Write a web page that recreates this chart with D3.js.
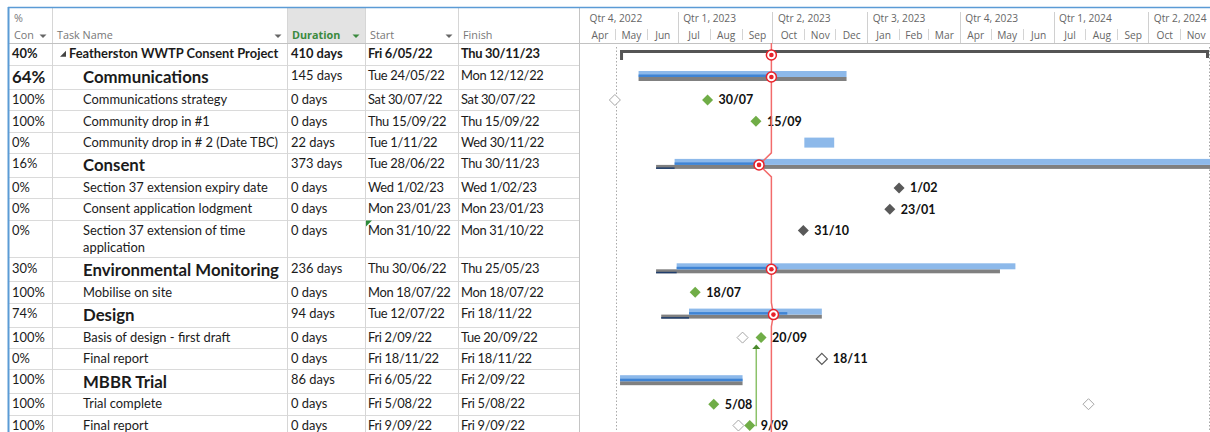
<!DOCTYPE html>
<html>
<head>
<meta charset="utf-8">
<script src="https://cdn.jsdelivr.net/npm/d3@7"></script>
<style>
  body { margin: 0; background: #fff; }
  svg { display: block; }
</style>
</head>
<body>
<div id="gantt"></div>
<script>
// ---- table values ----
const pctComplete = ["40%", "64%", "100%", "100%", "0%", "16%", "0%", "0%", "0%", "30%", "100%", "74%", "100%", "0%", "100%", "100%", "100%"];
const taskNames = [
  "Featherston WWTP Consent Project", "Communications", "Communications strategy", "Community drop in #1",
  "Community drop in # 2 (Date TBC)", "Consent", "Section 37 extension expiry date", "Consent application lodgment",
  "Section 37 extension of time application", "Environmental Monitoring", "Mobilise on site", "Design",
  "Basis of design - first draft", "Final report", "MBBR Trial", "Trial complete", "Final report"
];
const rowKind = ["project", "summary", "milestone", "milestone", "task", "summary", "milestone", "milestone",
  "milestone", "summary", "milestone", "summary", "milestone", "milestone", "summary", "milestone", "milestone"];
const durations = ["410 days", "145 days", "0 days", "0 days", "22 days", "373 days", "0 days", "0 days", "0 days",
  "236 days", "0 days", "94 days", "0 days", "0 days", "86 days", "0 days", "0 days"];
const startText = ["Fri 6/05/22", "Tue 24/05/22", "Sat 30/07/22", "Thu 15/09/22", "Tue 1/11/22", "Tue 28/06/22",
  "Wed 1/02/23", "Mon 23/01/23", "Mon 31/10/22", "Thu 30/06/22", "Mon 18/07/22", "Tue 12/07/22", "Fri 2/09/22",
  "Fri 18/11/22", "Fri 6/05/22", "Fri 5/08/22", "Fri 9/09/22"];
const finishText = ["Thu 30/11/23", "Mon 12/12/22", "Sat 30/07/22", "Thu 15/09/22", "Wed 30/11/22", "Thu 30/11/23",
  "Wed 1/02/23", "Mon 23/01/23", "Mon 31/10/22", "Thu 25/05/23", "Mon 18/07/22", "Fri 18/11/22", "Tue 20/09/22",
  "Fri 18/11/22", "Fri 2/09/22", "Fri 5/08/22", "Fri 9/09/22"];

// baselines (estimated from the grey bars / hollow diamonds)
const baselineStart = [null, "2022-05-24", "2022-05-01", null, null, "2022-06-10", null, null, null, "2022-06-10",
  null, "2022-06-15", "2022-09-02", "2022-11-18", "2022-05-06", "2023-08-04", "2022-08-29"];
const baselineFinish = [null, "2022-12-12", null, null, null, "2023-11-30", null, null, null, "2023-05-10",
  null, "2022-11-18", null, null, "2022-09-02", null, null];

// progress line
const statusDate = "2022-09-30";
const progressPoint = ["2022-09-30", "2022-09-30", null, null, null, "2022-09-18", null, null, null, "2022-09-30",
  null, "2022-10-02", null, null, null, null, null];

// predecessor -> successor links (row indexes)
const links = [[16, 12]];

// timescale
const quarterLabels = ["Qtr 4, 2022", "Qtr 1, 2023", "Qtr 2, 2023", "Qtr 3, 2023", "Qtr 4, 2023", "Qtr 1, 2024", "Qtr 2, 2024"];
const monthLabels = ["Apr", "May", "Jun", "Jul", "Aug", "Sep", "Oct", "Nov", "Dec", "Jan", "Feb", "Mar",
  "Apr", "May", "Jun", "Jul", "Aug", "Sep", "Oct", "Nov"];
const timeStart = "2022-04-01";
const timeEnd = "2023-11-30";
const projectLines = ["2022-05-02", "2023-11-30"];

// ---- setup ----
const W = 1210, H = 432;
const headTop = 7, headBottom = 43;
const tableLeft = 9, tableRight = 579, chartLeft = 584;
const colLines = [52, 287, 365, 458];
const font = "Lato, 'Open Sans', sans-serif";
const blue = "#5b9bd5";
const fs = 12.9, fsBig = 16.8;

const parseDate = d3.utcParse("%a %d/%m/%y");
const parseIso = d3.utcParse("%Y-%m-%d");
const labelFmt = d3.utcFormat("%-d/%m");

const xScale = d3.scaleUtc()
  .domain([parseIso(timeStart), parseIso(timeEnd)])
  .range([chartLeft, W]);

const svg = d3.select("#gantt").append("svg")
  .attr("width", W)
  .attr("height", H)
  .style("font-family", font);

// wrap long task names to the column width
const measure = svg.append("text").attr("font-size", fs).attr("visibility", "hidden");
const wrapName = (name, maxW) => {
  const words = name.split(" ");
  const lines = [];
  let cur = "";
  words.forEach((w) => {
    const test = cur ? cur + " " + w : w;
    measure.text(test);
    if (measure.node().getComputedTextLength() > maxW && cur) {
      lines.push(cur);
      cur = w;
    } else {
      cur = test;
    }
  });
  lines.push(cur);
  return lines;
};

let y = headBottom;
const rows = taskNames.map((name, i) => {
  const kind = rowKind[i];
  const lines = (kind === "summary" || kind === "project") ? [name] : wrapName(name, 200);
  let h = kind === "project" ? 22 : kind === "summary" ? 24 : 21.3 + (lines.length - 1) * 16.5;
  const r = {
    i, name, kind, lines, top: y, h,
    pct: pctComplete[i], dur: durations[i], startT: startText[i], finishT: finishText[i],
    start: parseDate(startText[i]), finish: parseDate(finishText[i]),
    bStart: baselineStart[i] ? parseIso(baselineStart[i]) : null,
    bFinish: baselineFinish[i] ? parseIso(baselineFinish[i]) : null,
    pp: progressPoint[i] ? parseIso(progressPoint[i]) : null
  };
  y += h;
  return r;
});
measure.remove();

// ---- table ----
const table = svg.append("g");

// header
table.append("rect")
  .attr("x", colLines[1] + 1).attr("y", headTop + 1)
  .attr("width", colLines[2] - colLines[1] - 1).attr("height", headBottom - headTop - 1)
  .attr("fill", "#e3e3e3");

const headTxt = (x, yy, t, opts = {}) => table.append("text")
  .attr("x", x).attr("y", yy).attr("dy", "0.35em")
  .attr("font-family", "'Open Sans', sans-serif")
  .attr("font-size", 10.8)
  .attr("font-weight", opts.bold ? 700 : 400)
  .attr("fill", opts.color || "#777")
  .text(t);

headTxt(14, 18, "%");
headTxt(14, 35, "Con");
headTxt(57, 35, "Task Name");
headTxt(292, 35, "Duration", {bold: true, color: "#3b8a3e"});
headTxt(370, 35, "Start");
headTxt(463, 35, "Finish");

const dropArrow = (x, yy, c) => table.append("path")
  .attr("d", `M${x - 3.5},${yy - 1.5}L${x + 3.5},${yy - 1.5}L${x},${yy + 2}Z`)
  .attr("fill", c || "#666");
dropArrow(43, 36);
dropArrow(278, 36);
dropArrow(356, 36, "#3b8a3e");
dropArrow(449, 36);

// grid lines
table.selectAll(".rowline")
  .data(rows)
  .join("line")
  .attr("x1", tableLeft).attr("x2", tableRight)
  .attr("y1", (d) => Math.round(d.top + d.h) + 0.5).attr("y2", (d) => Math.round(d.top + d.h) + 0.5)
  .attr("stroke", "#dadada");

table.selectAll(".colline")
  .data(colLines)
  .join("line")
  .attr("x1", (d) => d + 0.5).attr("x2", (d) => d + 0.5)
  .attr("y1", headTop).attr("y2", H)
  .attr("stroke", "#d6d6d6");

table.append("line")
  .attr("x1", tableRight + 0.5).attr("x2", tableRight + 0.5)
  .attr("y1", headTop).attr("y2", H)
  .attr("stroke", "#c4c4c4");

// header bottom
svg.append("line")
  .attr("x1", tableLeft).attr("x2", W)
  .attr("y1", headBottom + 0.5).attr("y2", headBottom + 0.5)
  .attr("stroke", "#c2c2c2");

// cell texts
const cellTxt = (x, yy, t, size, bold, tight) => table.append("text")
  .attr("x", x).attr("y", yy).attr("dy", "0.35em")
  .attr("font-size", size)
  .attr("font-weight", bold ? 700 : 400)
  .attr("letter-spacing", tight ? -0.3 : 0)
  .attr("fill", "#1b1b1b")
  .text(t);

rows.forEach((r) => {
  const small = r.top + 10.7;
  const big = r.top + r.h / 2 + 0.5;
  const isProj = r.kind === "project";
  const isSum = r.kind === "summary";
  // only the Communications row shows its % in the large summary font
  if (r.i === 1) cellTxt(12, big, r.pct, fsBig, true);
  else cellTxt(12, small, r.pct, fs, isProj);

  if (isProj) {
    table.append("path")
      .attr("d", `M${60},${small + 3}L${66},${small + 3}L${66},${small - 3}Z`)
      .attr("fill", "#444");
    cellTxt(69, small, r.name, fs, true);
  } else if (isSum) {
    cellTxt(83, big, r.name, fsBig, true);
  } else {
    r.lines.forEach((ln, k) => cellTxt(83, small + k * 17.5, ln, fs, false));
  }
  cellTxt(291, small, r.dur, fs, isProj);
  cellTxt(368, small, r.startT, fs, isProj, true);
  cellTxt(461, small, r.finishT, fs, isProj, true);
});

// edited-cell marker
const marked = rows[8];
table.append("path")
  .attr("d", `M${colLines[2] + 1},${marked.top + 1}L${colLines[2] + 7},${marked.top + 1}L${colLines[2] + 1},${marked.top + 7}Z`)
  .attr("fill", "#2e8b3a");

// outer blue frame
svg.append("line")
  .attr("x1", tableLeft - 1).attr("x2", W)
  .attr("y1", headTop + 0.5).attr("y2", headTop + 0.5)
  .attr("stroke", blue).attr("stroke-width", 1.5);
svg.append("line")
  .attr("x1", tableLeft - 0.5).attr("x2", tableLeft - 0.5)
  .attr("y1", headTop).attr("y2", H)
  .attr("stroke", blue).attr("stroke-width", 2);

// ---- timescale ----
const months = d3.utcMonth.range(parseIso(timeStart), d3.utcMonth.offset(parseIso(timeEnd), 1));
const quarters = months.filter((d, i) => i % 3 === 0);

const monthAxis = d3.axisTop(xScale)
  .tickValues(months.map((m) => new Date((+m + +d3.utcMonth.offset(m, 1)) / 2)))
  .tickFormat((d, i) => monthLabels[i])
  .tickSize(0)
  .tickPadding(0);

const quarterAxis = d3.axisTop(xScale)
  .tickValues(quarters)
  .tickFormat((d, i) => quarterLabels[i])
  .tickSize(0)
  .tickPadding(0);

const styleAxis = (g) => {
  g.select(".domain").remove();
  g.selectAll("text")
    .attr("font-family", "'Open Sans', sans-serif")
    .attr("font-size", 10.2)
    .attr("fill", "#666");
};

svg.append("g")
  .attr("transform", "translate(0,39)")
  .call(monthAxis)
  .call(styleAxis);

svg.append("g")
  .attr("transform", "translate(0,22)")
  .call(quarterAxis)
  .call(styleAxis)
  .call((g) => g.selectAll("text").attr("text-anchor", "start").attr("dx", 5));

svg.selectAll(".mtick")
  .data(months.filter((d, i) => i % 3 !== 0))
  .join("line")
  .attr("x1", (d) => Math.round(xScale(d)) + 0.5).attr("x2", (d) => Math.round(xScale(d)) + 0.5)
  .attr("y1", 29).attr("y2", 40)
  .attr("stroke", "#d4d4d4");

svg.selectAll(".qtick")
  .data(quarters.slice(1))
  .join("line")
  .attr("x1", (d) => Math.round(xScale(d)) + 0.5).attr("x2", (d) => Math.round(xScale(d)) + 0.5)
  .attr("y1", 12).attr("y2", headBottom)
  .attr("stroke", "#d0d0d0");

// ---- gantt ----
const chart = svg.append("g");

// project start / finish dotted lines
chart.selectAll(".pline")
  .data(projectLines.map(parseIso))
  .join("line")
  .attr("x1", (d) => Math.min(Math.round(xScale(d)), W - 1) + 0.5)
  .attr("x2", (d) => Math.min(Math.round(xScale(d)), W - 1) + 0.5)
  .attr("y1", headBottom + 4).attr("y2", H)
  .attr("stroke", "#a9a9a9")
  .attr("stroke-dasharray", "1.5,2");

const lightBlue = "#8db9ea", darkBlue = "#3f84d4", grey = "#808080";

rows.forEach((r) => {
  const c = r.top + 12;
  if (r.kind === "project") {
    const x0 = xScale(r.start), x1 = Math.min(xScale(r.finish), W - 1);
    chart.append("rect").attr("x", x0).attr("y", r.top + 7).attr("width", x1 - x0).attr("height", 3).attr("fill", "#555");
    chart.append("rect").attr("x", x0).attr("y", r.top + 7).attr("width", 3).attr("height", 10).attr("fill", "#555");
    chart.append("rect").attr("x", x1 - 3).attr("y", r.top + 7).attr("width", 3).attr("height", 8).attr("fill", "#555");
  } else if (r.kind === "summary") {
    const bx0 = xScale(r.bStart), bx1 = Math.min(xScale(r.bFinish), W);
    const x0 = xScale(r.start), x1 = Math.min(xScale(r.finish), W);
    const pct = parseFloat(r.pct) / 100;
    const px = xScale(new Date(+r.start + pct * (r.finish - r.start)));
    chart.append("rect").attr("x", bx0).attr("y", c).attr("width", bx1 - bx0).attr("height", 4).attr("fill", grey);
    if (r.bStart < r.start) {
      chart.append("rect").attr("x", bx0).attr("y", c + 2.5).attr("width", x0 - bx0).attr("height", 1.5).attr("fill", "#1f3d6b");
    }
    chart.append("rect").attr("x", x0).attr("y", c - 6).attr("width", x1 - x0).attr("height", 6).attr("fill", lightBlue);
    chart.append("rect").attr("x", x0).attr("y", c - 2.5).attr("width", Math.min(px, x1) - x0).attr("height", 2.5).attr("fill", darkBlue);
  } else if (r.kind === "task") {
    const x0 = xScale(r.start), x1 = xScale(r.finish);
    chart.append("rect").attr("x", x0).attr("y", r.top + 6).attr("width", x1 - x0).attr("height", 10).attr("fill", lightBlue);
  }
});

// links
const diamond = (s) => `M0,${-s}L${s},0L0,${s}L${-s},0Z`;
links.forEach(([from, to]) => {
  const a = rows[from], b = rows[to];
  const x0 = xScale(a.finish) + 5.5;
  const ya = a.top + 11, yb = b.top + 11;
  chart.append("path")
    .attr("d", `M${x0},${ya}H${x0 + 1}V${yb + 11}`)
    .attr("fill", "none")
    .attr("stroke", "#8cc26a")
    .attr("stroke-width", 1.5);
  chart.append("path")
    .attr("d", `M${x0 + 1 - 4},${yb + 11.5}L${x0 + 1 + 4},${yb + 11.5}L${x0 + 1},${yb + 7}Z`)
    .attr("fill", "#4a8a2c");
});

// milestones
rows.filter((r) => r.kind === "milestone").forEach((r) => {
  const c = r.top + 11;
  if (r.bStart && +r.bStart !== +r.finish) {
    chart.append("path")
      .attr("transform", `translate(${xScale(r.bStart)},${c})`)
      .attr("d", diamond(5.5))
      .attr("fill", "#fff").attr("stroke", "#a6a6a6");
  }
  const done = r.pct === "100%";
  const hollow = r.bStart && +r.bStart === +r.finish;
  chart.append("path")
    .attr("transform", `translate(${xScale(r.finish)},${c})`)
    .attr("d", diamond(hollow ? 5.5 : 5.5))
    .attr("fill", hollow ? "#fff" : done ? "#70ad47" : "#595959")
    .attr("stroke", hollow ? "#595959" : "none")
    .attr("stroke-width", 1.2);
  chart.append("text")
    .attr("x", xScale(r.finish) + 11).attr("y", c).attr("dy", "0.35em")
    .attr("font-size", 12.5).attr("font-weight", 700)
    .attr("fill", "#111")
    .text(labelFmt(r.finish));
});

// progress line
const sx = xScale(parseIso(statusDate));
const pts = [[sx, headBottom + 1]];
rows.filter((r) => r.pp).forEach((r) => {
  pts.push([sx, r.top], [xScale(r.pp), r.top + 12], [sx, r.top + r.h]);
});
pts.push([sx, H]);

chart.append("path")
  .attr("d", d3.line()(pts))
  .attr("fill", "none")
  .attr("stroke", "#f26b6b")
  .attr("stroke-width", 1.5);

const pp = chart.selectAll(".pp")
  .data(rows.filter((r) => r.pp))
  .join("g")
  .attr("transform", (r) => `translate(${xScale(r.pp)},${r.top + 12})`);
pp.append("circle").attr("r", 5).attr("fill", "#fff").attr("stroke", "#e8222a").attr("stroke-width", 1.5);
pp.append("circle").attr("r", 2.3).attr("fill", "#e8222a");
</script>
</body>
</html>
